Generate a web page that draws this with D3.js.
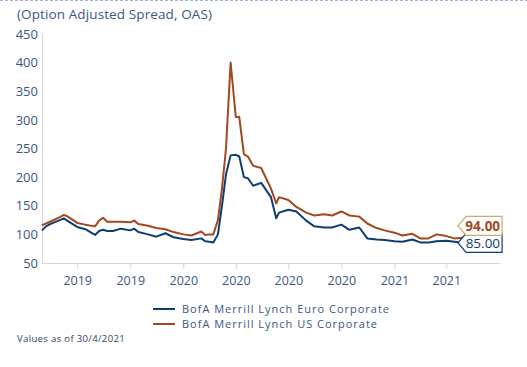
<!DOCTYPE html>
<html><head><meta charset="utf-8">
<script src="https://cdn.jsdelivr.net/npm/d3@7"></script>
<style>body{margin:0;background:#fff}svg{display:block}text{font-family:"Open Sans",sans-serif}</style>
</head><body><svg id="c" width="527" height="367"></svg>
<script>
const dates = ["2019-05-01","2019-05-08","2019-05-15","2019-06-01","2019-06-08","2019-06-15","2019-07-01","2019-07-15","2019-08-01","2019-08-08","2019-08-15","2019-08-22","2019-09-01","2019-09-15","2019-10-01","2019-10-08","2019-10-15","2019-11-01","2019-11-15","2019-12-01","2019-12-15","2020-01-01","2020-01-15","2020-02-01","2020-02-08","2020-02-15","2020-02-22","2020-03-01","2020-03-08","2020-03-15","2020-03-23","2020-04-01","2020-04-07","2020-04-15","2020-04-22","2020-05-01","2020-05-15","2020-06-01","2020-06-10","2020-06-15","2020-07-01","2020-07-15","2020-08-01","2020-08-15","2020-09-01","2020-09-15","2020-10-01","2020-10-15","2020-11-01","2020-11-15","2020-12-01","2020-12-15","2021-01-01","2021-01-15","2021-02-01","2021-02-15","2021-03-01","2021-03-15","2021-04-01","2021-04-15","2021-04-30"];
const usCorp = [116,119,122,130,134,131,120,117,114,124,129,122,122,122,121,124,118,115,111,109,104,100,98,105,99,100,100,125,180,250,400,305,305,240,236,220,216,180,154,165,160,148,138,133,135,133,140,133,131,119,111,107,103,98,101,93,93,100,97,93,94];
const euroCorp = [107,114,118,125,128,123,113,109,99,106,108,106,106,110,107,110,104,100,96,102,95,92,90,93,88,87,86,100,150,205,238,239,236,200,198,185,190,165,128,138,143,140,124,114,112,112,117,108,112,93,91,90,88,87,91,86,86,88,89,87,85];
const yTicks = [50,100,150,200,250,300,350,400,450];
const xTickDates = ["2019-07-01","2019-10-01","2020-01-01","2020-04-01","2020-07-01","2020-10-01","2021-01-01","2021-04-01"];
const seriesNames = ["BofA Merrill Lynch Euro Corporate","BofA Merrill Lynch US Corporate"];
const colors = ["#0f3d73","#a3471f"];

const parse = d3.utcParse("%Y-%m-%d");
const D = dates.map(parse);
const svg = d3.select("#c");
const L=42,R=500,T=34,B=263;
const x = d3.scaleUtc().domain([parse("2019-05-01"), parse("2021-07-03")]).range([L,R]);
const y = d3.scaleLinear().domain([50,450]).range([B,T]);
const txt="#3a5686";

// widen text with letter-spacing so its width matches the reference width
function spread(sel, w){
  sel.each(function(){
    const m = this.getComputedTextLength();
    const n = this.textContent.length;
    if (m>0 && n>1) this.setAttribute("letter-spacing", ((w-m)/n).toFixed(3));
  });
}

svg.append("line").attr("x1",0).attr("x2",527).attr("y1",0.5).attr("y2",0.5)
  .attr("stroke","#9db4d6").attr("stroke-dasharray","3,2");
spread(svg.append("text").attr("x",17).attr("y",19).attr("fill",txt).attr("font-size",13.5).text("(Option Adjusted Spread, OAS)"),195);

const ya = svg.append("g").attr("transform",`translate(${L},0)`)
  .call(d3.axisLeft(y).tickValues(yTicks).tickSize(0).tickPadding(4));
ya.select(".domain").attr("stroke","#d4d4d4");
ya.selectAll("text").attr("fill",txt).attr("font-size",13).style("font-family","Open Sans");

const xa = svg.append("g").attr("transform",`translate(0,${B})`)
  .call(d3.axisBottom(x).tickValues(xTickDates.map(parse)).tickFormat(d3.utcFormat("%Y")).tickSize(6).tickPadding(7).tickSizeOuter(0));
xa.select(".domain").attr("stroke","#d4d4d4");
xa.selectAll(".tick line").attr("stroke","#d4d4d4");
xa.selectAll("text").attr("fill",txt).attr("font-size",12.5).style("font-family","Open Sans");

const line = d3.line().x((d,i)=>x(D[i])).y(d=>y(d));
[usCorp, euroCorp].forEach((s,k)=>{
  svg.append("path").datum(s).attr("d",line).attr("fill","none")
    .attr("stroke", k===0?colors[1]:colors[0]).attr("stroke-width",2).attr("stroke-linejoin","round");
});

// end labels
function endLabel(val, yc, stroke, color, bold){
  const xe = x(D[D.length-1])-5, w=44, h=19;
  const g = svg.append("g");
  g.append("path").attr("d",`M${xe},${yc} L${xe+8},${yc-h/2} L${xe+w},${yc-h/2} L${xe+w},${yc+h/2} L${xe+8},${yc+h/2} Z`)
    .attr("fill","#fff").attr("stroke",stroke).attr("stroke-width",1.2);
  g.append("text").attr("x",xe+w-2).attr("y",yc+5).attr("text-anchor","end").attr("fill",color)
    .attr("font-size",13.5).attr("font-weight",bold?"bold":"normal").text(val.toFixed(2));
}
const lastUS = usCorp[usCorp.length-1], lastEU = euroCorp[euroCorp.length-1];
endLabel(lastEU, y(lastEU), "#0f3d73", "#0f3d73", false);
endLabel(lastUS, y(lastEU)-17, "#c9ab73", "#a3471f", true);

// legend
const legW = [208,196];
seriesNames.forEach((n,i)=>{
  const ly = 309 + i*15;
  svg.append("line").attr("x1",153).attr("x2",175).attr("y1",ly).attr("y2",ly).attr("stroke",colors[i]).attr("stroke-width",2);
  spread(svg.append("text").attr("x",182).attr("y",ly+4).attr("fill",txt).attr("font-size",11).text(n), legW[i]);
});
spread(svg.append("text").attr("x",17).attr("y",342).attr("fill","#2f3f5c").attr("font-size",9.5).text("Values as of 30/4/2021"),108);
</script></body></html>
